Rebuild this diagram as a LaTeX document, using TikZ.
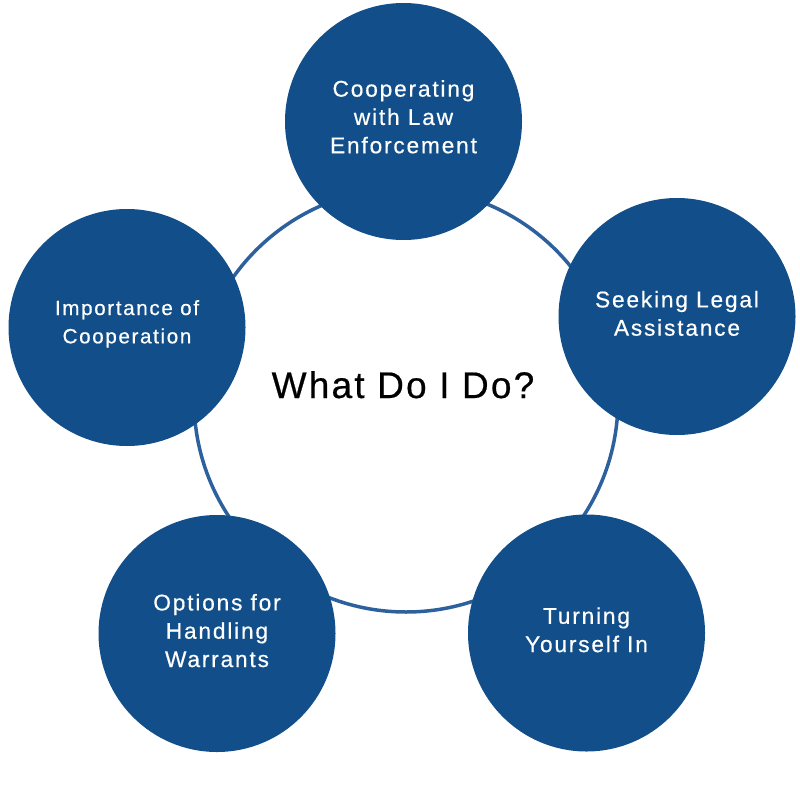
\documentclass[tikz,border=0pt]{standalone}
\usepackage{fontspec}
\setmainfont{Liberation Sans}
\newfontfamily\topicfont[LetterSpace=8, FakeBold=0.5]{Liberation Sans}
\newfontfamily\hubfont[LetterSpace=6, FakeBold=0.5]{Liberation Sans}
\definecolor{topicblue}{RGB}{18,79,138}
\definecolor{ringblue}{RGB}{45,97,158}

\begin{document}
\begin{tikzpicture}[x=1pt, y=-1pt,
    topic/.style = {circle, fill=topicblue, minimum size=237pt, inner sep=0pt, text=white, align=center, font=\topicfont\fontsize{22.7}{28.3}\selectfont},
    hub/.style = {circle, draw=ringblue, line width=3.5pt, minimum size=424pt, inner sep=0pt}]
    \useasboundingbox (0,0) rectangle (800,800);
    \node[hub] (R) at (406,400) {};
    \node[font=\hubfont\fontsize{37}{40}\selectfont, anchor=base] (Q) at (403,398) {What Do I Do?};

    \node[topic, text depth=9.6pt] (T) at (403.5,121.5) {Cooperating\\ with Law\\ Enforcement};
    \node[topic, text depth=6.4pt] (S) at (677,316.5) {Seeking Legal\\ Assistance};
    \node[topic, text depth=6.6pt] (Y) at (586.5,633) {Turning\\ Yourself In};
    \node[topic, text depth=6pt] (W) at (217,633.5) {Options for\\ Handling\\ Warrants};
    \node[topic, text depth=11.6pt, font=\topicfont\fontsize{20.6}{28.3}\selectfont] (C) at (127,327.5) {Importance of\\ Cooperation};
  \end{tikzpicture}
\end{document}
